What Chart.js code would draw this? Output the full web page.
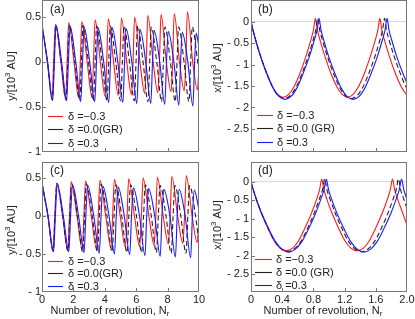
<!DOCTYPE html>
<html>
<head>
<meta charset="utf-8">
<script src="https://cdn.jsdelivr.net/npm/chart.js@4.4.1/dist/chart.umd.min.js"></script>
<style>
  html, body { margin: 0; padding: 0; background: #fff; }
  #wrap { position: relative; width: 415px; height: 319px; overflow: hidden; }
  canvas { position: absolute; }
</style>
</head>
<body>
<div id="wrap">
  <canvas id="pa" width="207" height="160" style="left:0;top:0;width:207px;height:160px"></canvas>
  <canvas id="pb" width="208" height="160" style="left:207px;top:0;width:208px;height:160px"></canvas>
  <canvas id="pc" width="207" height="159" style="left:0;top:160px;width:207px;height:159px"></canvas>
  <canvas id="pd" width="208" height="159" style="left:207px;top:160px;width:208px;height:159px"></canvas>
</div>
<script>
// ---- data: [N_r, value] ----
// (a) y vs N_r
const aRed = [[0,0.42],[0.34,0],[0.64,-0.42],[0.74,0],[0.86,0.42],[1.20,0],[1.50,-0.41],[1.60,0],
  [1.70,0.44],[2.04,0],[2.34,-0.40],[2.44,0],[2.54,0.45],[2.88,0],[3.18,-0.39],[3.28,0],
  [3.38,0.47],[3.72,0],[4.02,-0.38],[4.12,0],[4.22,0.48],[4.56,0],[4.86,-0.37],[4.96,0],
  [5.06,0.49],[5.40,0],[5.70,-0.36],[5.80,0],[5.90,0.50],[6.24,0],[6.54,-0.35],[6.64,0],
  [6.74,0.52],[7.08,0],[7.38,-0.34],[7.48,0],[7.58,0.53],[7.92,0],[8.22,-0.33],[8.32,0],
  [8.42,0.54],[8.76,0],[9.06,-0.32],[9.16,0],[9.26,0.56],[9.60,0],[9.90,-0.31],[10,-0.05]];
const aBlack = [[0,0.41],[0.35,0],[0.66,-0.42],[0.77,0],[0.87,0.41],[1.22,0],[1.53,-0.42],[1.64,0],
  [1.74,0.41],[2.09,0],[2.40,-0.42],[2.51,0],[2.61,0.41],[2.96,0],[3.27,-0.43],[3.38,0],
  [3.48,0.40],[3.83,0],[4.14,-0.43],[4.25,0],[4.35,0.40],[4.70,0],[5.01,-0.43],[5.12,0],
  [5.22,0.40],[5.57,0],[5.88,-0.43],[5.99,0],[6.09,0.40],[6.44,0],[6.75,-0.44],[6.86,0],
  [6.96,0.39],[7.31,0],[7.62,-0.44],[7.73,0],[7.83,0.39],[8.18,0],[8.49,-0.44],[8.60,0],
  [8.70,0.39],[9.05,0],[9.36,-0.44],[9.47,0],[9.57,0.39],[9.92,0],[10,-0.10]];
const aBlue = [[0,0.41],[0.36,0],[0.68,-0.43],[0.79,0],[0.89,0.41],[1.25,0],[1.57,-0.43],[1.68,0],
  [1.79,0.40],[2.15,0],[2.47,-0.44],[2.58,0],[2.68,0.39],[3.04,0],[3.36,-0.44],[3.47,0],
  [3.57,0.38],[3.93,0],[4.25,-0.45],[4.36,0],[4.47,0.38],[4.83,0],[5.15,-0.45],[5.26,0],
  [5.36,0.37],[5.72,0],[6.04,-0.46],[6.15,0],[6.25,0.36],[6.61,0],[6.93,-0.46],[7.04,0],
  [7.14,0.35],[7.50,0],[7.82,-0.47],[7.93,0],[8.04,0.34],[8.40,0],[8.72,-0.48],[8.83,0],
  [8.93,0.33],[9.29,0],[9.61,-0.49],[9.72,0],[9.82,0.32],[10,0.16]];

// (b) x vs N_r
const bRed = [[0,0],[0.025,-0.19],[0.058,-0.42],[0.116,-0.77],[0.198,-1.20],[0.273,-1.51],[0.339,-1.69],[0.413,-1.76],
  [0.487,-1.69],[0.553,-1.51],[0.628,-1.20],[0.710,-0.77],[0.768,-0.42],[0.801,-0.19],[0.826,0.08],
  [0.851,-0.19],[0.884,-0.42],[0.942,-0.77],[1.024,-1.20],[1.099,-1.51],[1.165,-1.69],[1.239,-1.76],
  [1.313,-1.69],[1.379,-1.51],[1.454,-1.20],[1.536,-0.77],[1.594,-0.42],[1.627,-0.19],[1.652,0.08],
  [1.677,-0.19],[1.710,-0.42],[1.768,-0.77],[1.850,-1.20],[1.925,-1.51],[1.991,-1.69],[2.0,-1.70]];
const bBlack = [[0,0],[0.026,-0.20],[0.060,-0.43],[0.120,-0.79],[0.205,-1.22],[0.282,-1.54],[0.351,-1.72],[0.428,-1.79],
  [0.505,-1.72],[0.574,-1.54],[0.651,-1.22],[0.736,-0.79],[0.796,-0.43],[0.830,-0.20],[0.856,0.08],
  [0.882,-0.20],[0.916,-0.43],[0.976,-0.79],[1.061,-1.22],[1.138,-1.54],[1.207,-1.72],[1.284,-1.79],
  [1.361,-1.72],[1.430,-1.54],[1.507,-1.22],[1.592,-0.79],[1.652,-0.43],[1.686,-0.20],[1.712,0.08],
  [1.738,-0.20],[1.772,-0.43],[1.832,-0.79],[1.917,-1.22],[1.994,-1.54],[2.0,-1.55]];
const bBlue = [[0,0],[0.026,-0.20],[0.061,-0.43],[0.122,-0.80],[0.209,-1.23],[0.288,-1.56],[0.358,-1.74],[0.436,-1.81],
  [0.514,-1.74],[0.584,-1.56],[0.663,-1.23],[0.750,-0.80],[0.811,-0.43],[0.846,-0.20],[0.872,0.08],
  [0.898,-0.20],[0.933,-0.43],[0.994,-0.80],[1.081,-1.23],[1.160,-1.56],[1.230,-1.74],[1.308,-1.81],
  [1.386,-1.74],[1.456,-1.56],[1.535,-1.23],[1.622,-0.80],[1.683,-0.43],[1.718,-0.20],[1.744,0.08],
  [1.770,-0.20],[1.805,-0.43],[1.866,-0.80],[1.953,-1.23],[2.0,-1.43]];

// (c) y vs N_r
const cRed = [[0,0.43],[0.37,0],[0.70,-0.46],[0.81,0],[0.94,0.43],[1.31,0],[1.64,-0.45],[1.75,0],
  [1.86,0.45],[2.23,0],[2.56,-0.44],[2.67,0],[2.77,0.46],[3.14,0],[3.47,-0.43],[3.58,0],
  [3.69,0.47],[4.06,0],[4.39,-0.42],[4.50,0],[4.61,0.48],[4.98,0],[5.31,-0.41],[5.42,0],
  [5.52,0.49],[5.89,0],[6.22,-0.40],[6.33,0],[6.44,0.50],[6.81,0],[7.14,-0.38],[7.25,0],
  [7.35,0.51],[7.72,0],[8.05,-0.37],[8.16,0],[8.27,0.52],[8.64,0],[8.97,-0.36],[9.08,0],
  [9.19,0.53],[9.56,0],[9.89,-0.35],[10,-0.03]];
const cBlack = [[0,0.43],[0.38,0],[0.71,-0.46],[0.83,0],[0.94,0.43],[1.32,0],[1.65,-0.46],[1.77,0],
  [1.88,0.42],[2.26,0],[2.59,-0.47],[2.71,0],[2.82,0.42],[3.20,0],[3.53,-0.47],[3.65,0],
  [3.76,0.42],[4.14,0],[4.47,-0.47],[4.59,0],[4.70,0.41],[5.08,0],[5.41,-0.48],[5.53,0],
  [5.64,0.41],[6.02,0],[6.35,-0.48],[6.47,0],[6.58,0.41],[6.96,0],[7.29,-0.48],[7.41,0],
  [7.52,0.40],[7.90,0],[8.23,-0.49],[8.35,0],[8.46,0.40],[8.84,0],[9.17,-0.49],[9.29,0],
  [9.40,0.40],[9.78,0],[10,-0.36]];
const cBlue = [[0,0.43],[0.39,0],[0.74,-0.47],[0.85,0],[0.97,0.42],[1.36,0],[1.71,-0.47],[1.82,0],
  [1.94,0.41],[2.33,0],[2.68,-0.48],[2.79,0],[2.91,0.40],[3.30,0],[3.65,-0.49],[3.76,0],
  [3.88,0.39],[4.27,0],[4.62,-0.50],[4.73,0],[4.85,0.38],[5.24,0],[5.59,-0.51],[5.70,0],
  [5.82,0.37],[6.21,0],[6.56,-0.52],[6.67,0],[6.79,0.36],[7.18,0],[7.53,-0.53],[7.64,0],
  [7.76,0.35],[8.15,0],[8.50,-0.54],[8.61,0],[8.73,0.35],[9.12,0],[9.47,-0.55],[9.58,0],
  [9.70,0.34],[10,0.08]];

// (d) x vs N_r
const dRed = [[0,0],[0.027,-0.20],[0.063,-0.45],[0.127,-0.82],[0.218,-1.26],[0.299,-1.60],[0.372,-1.79],[0.454,-1.86],
  [0.535,-1.79],[0.608,-1.60],[0.689,-1.26],[0.780,-0.82],[0.844,-0.45],[0.880,-0.20],[0.907,0.08],
  [0.934,-0.20],[0.970,-0.45],[1.034,-0.82],[1.125,-1.26],[1.206,-1.60],[1.279,-1.79],[1.361,-1.86],
  [1.442,-1.79],[1.515,-1.60],[1.596,-1.26],[1.687,-0.82],[1.751,-0.45],[1.787,-0.20],[1.814,0.08],
  [1.841,-0.20],[1.877,-0.45],[1.941,-0.82],[2.0,-1.17]];
const dBlack = [[0,0],[0.028,-0.21],[0.066,-0.45],[0.132,-0.83],[0.227,-1.29],[0.312,-1.63],[0.387,-1.81],[0.473,-1.89],
  [0.558,-1.81],[0.633,-1.63],[0.718,-1.29],[0.813,-0.83],[0.879,-0.45],[0.917,-0.21],[0.945,0.08],
  [0.973,-0.21],[1.011,-0.45],[1.077,-0.83],[1.172,-1.29],[1.257,-1.63],[1.332,-1.81],[1.418,-1.89],
  [1.503,-1.81],[1.578,-1.63],[1.663,-1.29],[1.758,-0.83],[1.824,-0.45],[1.862,-0.21],[1.890,0.08],
  [1.918,-0.21],[1.956,-0.45],[2.0,-0.72]];
const dBlue = [[0,0],[0.029,-0.21],[0.068,-0.46],[0.135,-0.84],[0.232,-1.29],[0.318,-1.63],[0.396,-1.82],[0.483,-1.90],
  [0.569,-1.82],[0.647,-1.63],[0.733,-1.29],[0.830,-0.84],[0.897,-0.46],[0.936,-0.21],[0.965,0.08],
  [0.994,-0.21],[1.033,-0.46],[1.100,-0.84],[1.197,-1.29],[1.283,-1.63],[1.361,-1.82],[1.448,-1.90],
  [1.534,-1.82],[1.612,-1.63],[1.698,-1.29],[1.795,-0.84],[1.862,-0.46],[1.901,-0.21],[1.930,0.08],
  [1.959,-0.21],[2.0,-0.48]];

// tick values and labels
const xTicksLeft = [0, 2, 4, 6, 8, 10];
const xTicksRight = [0, 0.4, 0.8, 1.2, 1.6, 2.0];
const yTicksLeft = [0.5, 0, -0.5, -1];
const yTicksRight = [0, -0.5, -1, -1.5, -2, -2.5];
const labelsA = ['δ =−0.3', 'δ =0.0(GR)', 'δ =0.3'];
const labelsB = ['δ =−0.3', 'δ =0.0 (GR)', 'δ =0.3'];

const FONT = "'Liberation Sans', Arial, sans-serif";
Chart.defaults.font.family = FONT;
Chart.defaults.color = '#222';

const lineColors = ['rgb(255,25,25)', '#222', 'rgb(25,25,255)'];

function fmtY(v) {
    if (v === 0) return '0';
    return v > 0 ? String(v) : '- ' + String(-v);
}

/**
 * Frame, inward ticks, legend, panel letter and axis titles
 */
const decor = {
    id: 'decor',
    afterDraw(chart, args, o) {
        const ctx = chart.ctx;
        const a = chart.chartArea;
        const xs = chart.scales.x, ys = chart.scales.y;
        ctx.save();

        // frame
        ctx.strokeStyle = '#777';
        ctx.lineWidth = 1;
        const L = Math.round(a.left), T = Math.round(a.top);
        const W = Math.round(a.right) - L, H = Math.round(a.bottom) - T;
        ctx.strokeRect(L + 0.5, T + 0.5, W - 1, H - 1);

        // inward ticks
        ctx.beginPath();
        xs.ticks.forEach(t => {
            const px = Math.round(xs.getPixelForValue(t.value)) + 0.5;
            if (px < L + 2 || px > L + W - 2) return;
            ctx.moveTo(px, T + H - 1);
            ctx.lineTo(px, T + H - 4);
        });
        ys.ticks.forEach(t => {
            const py = Math.round(ys.getPixelForValue(t.value)) + 0.5;
            if (py < T + 2 || py > T + H - 2) return;
            ctx.moveTo(L + 1, py);
            ctx.lineTo(L + 4, py);
        });
        ctx.stroke();

        // legend
        ctx.font = '11px ' + FONT;
        ctx.textBaseline = 'middle';
        ctx.textAlign = 'left';
        chart.data.datasets.forEach((ds, i) => {
            const y = o.legY[i] + 0.5;
            ctx.strokeStyle = ds.borderColor;
            ctx.lineWidth = 1.1;
            ctx.setLineDash([]);
            ctx.beginPath();
            ctx.moveTo(o.legX0, y);
            ctx.lineTo(o.legX1, y);
            ctx.stroke();
            ctx.fillStyle = '#222';
            ctx.fillText(ds.label, o.legTx, o.legY[i] + 0.5);
        });

        // panel letter
        ctx.font = '12px ' + FONT;
        ctx.fillText(o.letter, o.letX, o.letY);

        // y-axis title with superscript
        ctx.save();
        ctx.translate(o.ytX, o.ytY);
        ctx.rotate(-Math.PI / 2);
        const big = '11px ' + FONT, small = '8px ' + FONT;
        const parts = [[o.yVar + '/[10', big, 0], ['3', small, -4], [' AU]', big, 0]];
        let total = 0;
        parts.forEach(p => { ctx.font = p[1]; total += ctx.measureText(p[0]).width; });
        let cx = -total / 2;
        parts.forEach(p => {
            ctx.font = p[1];
            ctx.fillText(p[0], cx, p[2]);
            cx += ctx.measureText(p[0]).width;
        });
        ctx.restore();

        // x-axis title with subscript
        if (o.xtY) {
            const xparts = [['Number of revolution, N', big, 0], ['r', small, 3]];
            let tw = 0;
            xparts.forEach(p => { ctx.font = p[1]; tw += ctx.measureText(p[0]).width; });
            let x0 = o.xtX - tw / 2;
            xparts.forEach(p => {
                ctx.font = p[1];
                ctx.fillText(p[0], x0, o.xtY + p[2]);
                x0 += ctx.measureText(p[0]).width;
            });
        }
        ctx.restore();
    }
};

function makePanel(id, cfg) {
    const datasets = cfg.series.map((s, i) => ({
        label: cfg.labels[i],
        data: s.map(p => ({ x: p[0], y: p[1] })),
        borderColor: lineColors[i],
        borderWidth: 1.1,
        borderDash: i === 1 ? [5, 3] : [],
        pointRadius: 0,
        cubicInterpolationMode: 'monotone',
        fill: false,
        order: 3 - i
    }));
    return new Chart(document.getElementById(id), {
        type: 'line',
        data: { datasets: datasets },
        options: {
            responsive: false,
            animation: false,
            devicePixelRatio: 1,
            layout: { padding: cfg.pad },
            plugins: {
                legend: { display: false },
                tooltip: { enabled: false },
                decor: cfg.decor
            },
            scales: {
                x: {
                    type: 'linear',
                    min: cfg.xMin,
                    max: cfg.xMax,
                    afterBuildTicks: s => { s.ticks = cfg.xTicks.map(v => ({ value: v })); },
                    afterFit: s => { s.height = cfg.xH; s.paddingLeft = 0; s.paddingRight = 0; },
                    grid: { display: false, drawTicks: false },
                    border: { display: false },
                    ticks: {
                        display: cfg.xLabels,
                        padding: 1,
                        maxRotation: 0,
                        autoSkip: false,
                        font: { size: 11 },
                        color: '#222',
                        callback: cfg.xFmt
                    }
                },
                y: {
                    type: 'linear',
                    min: cfg.yMin,
                    max: cfg.yMax,
                    afterBuildTicks: s => { s.ticks = cfg.yTicks.map(v => ({ value: v })); },
                    afterFit: s => { s.width = cfg.yW; s.paddingTop = 0; s.paddingBottom = 0; },
                    grid: {
                        drawTicks: false,
                        lineWidth: 1,
                        color: c => (c.tick && c.tick.value === 0) ? '#dadada' : 'rgba(0,0,0,0)'
                    },
                    border: { display: false },
                    ticks: {
                        padding: cfg.yPad,
                        autoSkip: false,
                        font: { size: 11 },
                        color: '#222',
                        callback: v => fmtY(v)
                    }
                }
            }
        },
        plugins: [decor]
    });
}

const fmtLeft = v => String(v);
const fmtRight = v => (v === 0 ? '0' : v.toFixed(1));

makePanel('pa', {
    series: [aRed, aBlack, aBlue], labels: labelsA,
    pad: { left: 0, right: 8, top: 0, bottom: 0 },
    xMin: 0, xMax: 10, xTicks: xTicksLeft, xH: 8, xLabels: false, xFmt: fmtLeft,
    yMin: -1, yMax: 0.69, yTicks: yTicksLeft, yW: 42, yPad: 1,
    decor: { letter: '(a)', letX: 50, letY: 10, yVar: 'y', ytX: 12, ytY: 76,
             legX0: 48, legX1: 63, legTx: 68, legY: [116, 129, 143] }
});

makePanel('pb', {
    series: [bRed, bBlack, bBlue], labels: labelsB,
    pad: { left: 0, right: 8, top: 0, bottom: 0 },
    xMin: 0, xMax: 2, xTicks: xTicksRight, xH: 8, xLabels: false, xFmt: fmtRight,
    yMin: -3.04, yMax: 0.51, yTicks: yTicksRight, yW: 44, yPad: 2,
    decor: { letter: '(b)', letX: 51, letY: 10, yVar: 'x', ytX: 11, ytY: 68,
             legX0: 50, legX1: 66, legTx: 70, legY: [115, 128, 142] }
});

makePanel('pc', {
    series: [cRed, cBlack, cBlue], labels: labelsA,
    pad: { left: 0, right: 8, top: 2, bottom: 0 },
    xMin: 0, xMax: 10, xTicks: xTicksLeft, xH: 27, xLabels: true, xFmt: fmtLeft,
    yMin: -1, yMax: 0.71, yTicks: yTicksLeft, yW: 42, yPad: 1,
    decor: { letter: '(c)', letX: 50, letY: 11, yVar: 'y', ytX: 12, ytY: 70,
             legX0: 48, legX1: 63, legTx: 68, legY: [101, 113, 126],
             xtX: 110, xtY: 151 }
});

makePanel('pd', {
    series: [dRed, dBlack, dBlue], labels: labelsB,
    pad: { left: 0, right: 8, top: 2, bottom: 0 },
    xMin: 0, xMax: 2, xTicks: xTicksRight, xH: 27, xLabels: true, xFmt: fmtRight,
    yMin: -2.98, yMax: 0.54, yTicks: yTicksRight, yW: 44, yPad: 2,
    decor: { letter: '(d)', letX: 51, letY: 11, yVar: 'x', ytX: 11, ytY: 65,
             legX0: 48, legX1: 65, legTx: 69, legY: [99, 112, 125],
             xtX: 116, xtY: 151 }
});
</script>
</body>
</html>
